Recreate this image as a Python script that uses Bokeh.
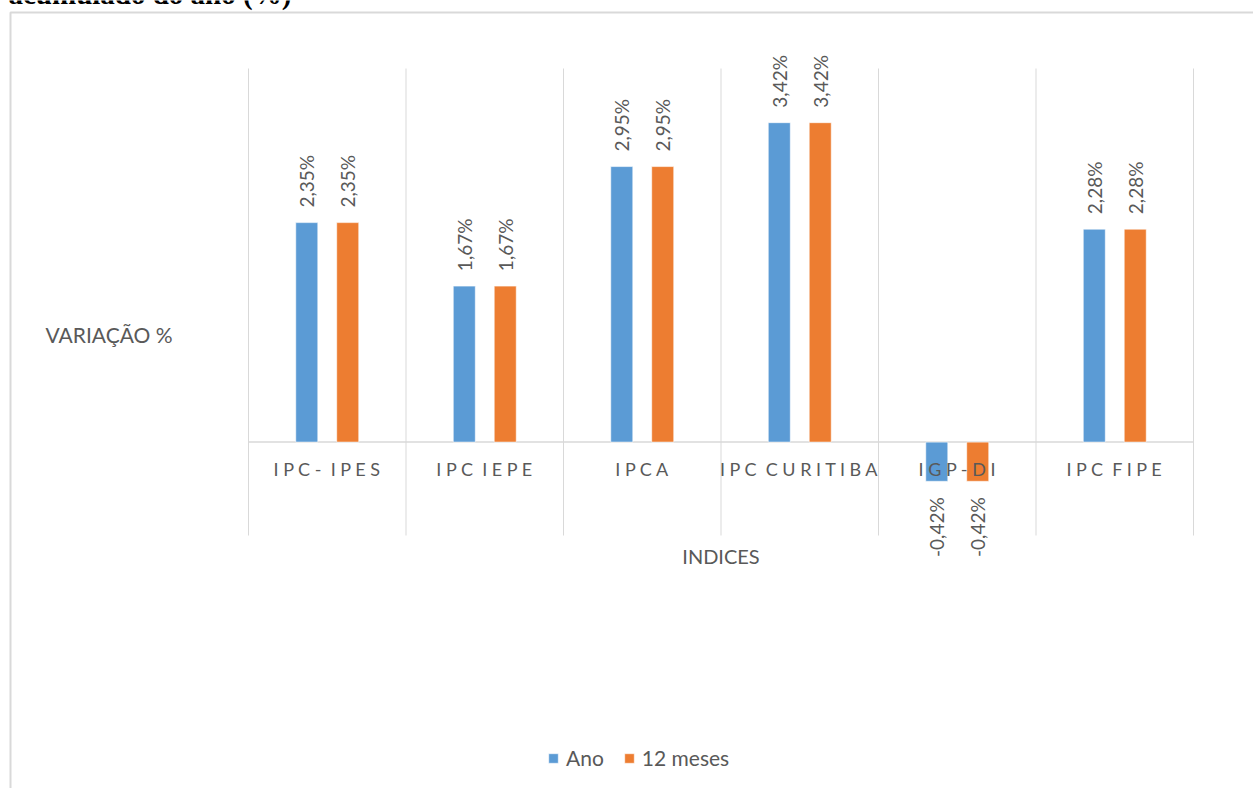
import math

from bokeh.core.properties import field, value
from bokeh.embed import file_html
from bokeh.models import (BoxAnnotation, ColumnDataSource, Label, LabelSet, Legend,
                          LegendItem, Range1d)
from bokeh.plotting import figure
from bokeh.resources import INLINE

# ---- data ---------------------------------------------------------------
categories = ["IPC- IPES", "IPC IEPE", "IPCA", "IPC CURITIBA", "IGP-DI", "IPC FIPE"]
ano = [2.35, 1.67, 2.95, 3.42, -0.42, 2.28]
doze_meses = [2.35, 1.67, 2.95, 3.42, -0.42, 2.28]
series_names = ["Ano", "12 meses"]
series_colors = ["#5B9BD5", "#ED7D31"]

# ---- geometry (canvas pixels) ----------------------------------------------
W, H = 1253, 788
FL, FR, FT, FB = 248, 1193, 68, 535     # plot area edges
Y0, Y1 = -1.0, 4.0                       # value axis extent
GRAY = "#595959"
RULE = "#D9D9D9"
N = len(categories)


def sx(px):
    """canvas x pixel -> category coordinate (category i spans [i, i+1])"""
    return (px - FL) / (FR - FL) * N


def sy(py):
    """canvas y pixel -> value coordinate"""
    return Y1 - (py - FT) / (FB - FT) * (Y1 - Y0)


def pct(v):
    return f"{v:.2f}".replace(".", ",") + "%"


def spaced(s):
    # letter-spaced category label, wider gap between words
    return " ".join(s).replace("   ", " \u00a0")


centers = [i + 0.5 for i in range(N)]
offsets = [-0.13, 0.13]

src = ColumnDataSource(dict(
    cat=categories,
    cat_lbl=[spaced(c) for c in categories],
    xc=centers,
    zero=[0.0] * N,
    x_ano=[c + offsets[0] for c in centers],
    x_meses=[c + offsets[1] for c in centers],
    ano=ano,
    meses=doze_meses,
    ano_lbl=[pct(v) for v in ano],
    meses_lbl=[pct(v) for v in doze_meses],
    ano_align=["left" if v >= 0 else "right" for v in ano],
    meses_align=["left" if v >= 0 else "right" for v in doze_meses],
    ano_off=[15 if v >= 0 else -16 for v in ano],
    meses_off=[15 if v >= 0 else -16 for v in doze_meses],
))

p = figure(
    width=W, height=H,
    x_range=Range1d(sx(0), sx(W)),
    y_range=Range1d(sy(H), sy(0)),
    output_backend="svg", toolbar_location=None,
    x_axis_location=None, y_axis_location=None, title=None,
    min_border=0, min_border_left=0, min_border_right=0,
    min_border_top=0, min_border_bottom=0,
)
p.outline_line_color = None
p.background_fill_color = "white"
p.border_fill_color = "white"
p.grid.visible = False

# vertical separators between categories, spanning the value extent
bounds = list(range(N + 1))
p.segment(x0=bounds, x1=bounds, y0=[Y0] * (N + 1), y1=[Y1] * (N + 1),
          line_color=RULE, line_width=1)
# zero line acting as the category axis
p.segment(x0=[0], x1=[N], y0=[0], y1=[0], line_color=RULE, line_width=1.5)

# bars
cols = ["ano", "meses"]
renderers = []
for col, color in zip(cols, series_colors):
    r = p.vbar(x=f"x_{col}", top=col, bottom=0, width=0.14, source=src,
               fill_color=color, line_color="white", line_width=0.6)
    renderers.append(r)
    p.add_layout(LabelSet(
        x=f"x_{col}", y=col, text=f"{col}_lbl", source=src,
        angle=math.pi / 2, text_align=field(f"{col}_align"), text_baseline="middle",
        y_offset=field(f"{col}_off"),
        text_font=value("Lato"), text_font_size=value("19px"), text_color=GRAY,
    ))

# category labels under the zero line
p.add_layout(LabelSet(
    x="xc", y="zero", text="cat_lbl", source=src, y_offset=-27,
    text_align="center", text_baseline="middle",
    text_font=value("Lato"), text_font_size=value("18px"), text_color=GRAY,
))

# axis titles
p.add_layout(Label(x=sx(45), y=sy(334), text="VARIAÇÃO %", text_align="left",
                   text_baseline="middle", text_font="Lato", text_font_size="21px",
                   text_color=GRAY))
p.add_layout(Label(x=N / 2, y=sy(555), text="INDICES", text_align="center",
                   text_baseline="middle", text_font="Lato", text_font_size="20px",
                   text_color=GRAY))

# legend
legend = Legend(
    items=[LegendItem(label=n, renderers=[r]) for n, r in zip(series_names, renderers)],
    orientation="horizontal", location=(547, H - 770),
    glyph_width=12, glyph_height=12, label_standoff=7, spacing=19,
    padding=0, margin=0, border_line_color=None, background_fill_alpha=0,
    label_text_font="Lato", label_text_font_size="21px", label_text_color=GRAY,
)
p.add_layout(legend)

# chart border
p.add_layout(BoxAnnotation(left=sx(10), top=sy(12), right=sx(1400), bottom=sy(1000),
                           fill_color=None, fill_alpha=0, line_color=RULE,
                           line_alpha=1.0, line_width=2))

# caption heading above the chart box
p.add_layout(Label(x=sx(8), y=sy(-7), text="acumulado do ano (%)", text_align="left",
                   text_baseline="alphabetic", text_font="Liberation Serif",
                   text_font_style="bold", text_font_size="29px", text_color="black"))

with open("out.html", "w") as f:
    f.write(file_html(p, INLINE))
